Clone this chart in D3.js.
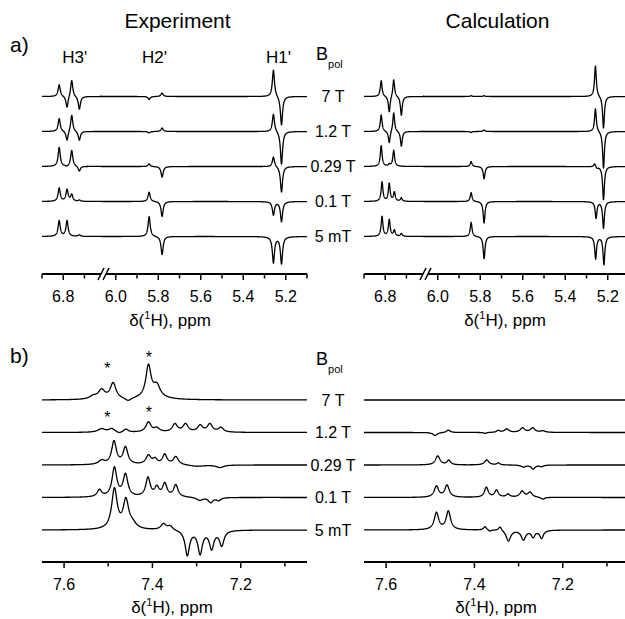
<!DOCTYPE html>
<html><head><meta charset="utf-8">
<script src="https://cdn.jsdelivr.net/npm/d3@7"></script>
<style>body{margin:0;background:#fff}svg{display:block}</style>
</head><body><svg id="c" width="625" height="619"></svg>
<script>
// ---------------- DATA ----------------
const fields = ["7 T", "1.2 T", "0.29 T", "0.1 T", "5 mT"];
const topTicksMajor = [6.8, 6.0, 5.8, 5.6, 5.4, 5.2];
const topTicksMinor = [6.9, 6.7, 5.9, 5.7, 5.5, 5.3, 5.1];
const botTicksMajor = [7.6, 7.4, 7.2];
const botTicksMinor = [7.5, 7.3, 7.1];
const groupNames = ["H3'", "H2'", "H1'"];
const groupPpm = [6.746, 5.818, 5.234];
const starPpm = [7.502, 7.408];
const starLevels = [[35, 46], [18.5, 23.5]];   // intensity above baseline for 7 T and 1.2 T
// peaks: [ppm, intensity, half-width(ppm)]
const topExp = [
  [[6.819,12],[6.782,-12],[6.760,17],[6.724,-13],[5.843,-3],[5.782,3.5],[5.258,27],[5.220,-29]],
  [[6.819,13],[6.782,-10],[6.760,17],[6.724,-9],[5.843,-1.5],[5.782,3.5],[5.258,18],[5.220,-33]],
  [[6.819,19],[6.782,-1],[6.760,16],[6.724,-5],[5.843,2.7],[5.782,-10.6],[5.258,10],[5.220,-25.7]],
  [[6.819,13.4],[6.782,11.7],[6.760,6.7],[6.724,1.2],[5.843,9.4],[5.782,-15],[5.258,-13.3],[5.220,-20]],
  [[6.819,15.7],[6.782,15.7],[6.724,1.5],[5.843,20],[5.782,-18.3],[5.258,-26],[5.220,-27]]
];
const topCalc = [
  [[6.819,16],[6.781,-16.3],[6.760,17.7],[6.724,-19],[5.843,0.8],[5.782,0.8],[5.258,31],[5.220,-32]],
  [[6.819,16.7],[6.781,-12.3],[6.760,19.3],[6.724,-15],[5.843,-1],[5.782,1.5],[5.258,23.3],[5.220,-37]],
  [[6.819,20.7],[6.781,2],[6.760,16],[5.843,5],[5.782,-12.3],[5.262,3.4],[5.250,-1.5],[5.220,-33.3]],
  [[6.815,19.4],[6.781,17.7],[6.757,9],[6.724,3.4],[5.843,9],[5.782,-21.6],[5.255,-16.6],[5.220,-26.6]],
  [[6.815,20],[6.781,16.7],[6.757,6],[6.724,2.7],[5.843,14.3],[5.782,-22.3],[5.257,-22.3],[5.218,-28]]
];
const botExp = [
  [[7.534,3,0.01],[7.515,9,0.009],[7.489,16,0.008],[7.455,-3,0.008],[7.409,31,0.007],[7.390,11,0.009],[7.40,3,0.03]],
  [[7.515,3.5,0.01],[7.492,3.5,0.008],[7.475,-1.5,0.006],[7.460,3,0.006],[7.409,10,0.007],[7.390,4,0.007],[7.349,8,0.007],[7.325,8,0.007],[7.292,6.5,0.007],[7.270,8,0.007],[7.245,4.5,0.007]],
  [[7.515,4,0.008],[7.487,23,0.0065],[7.461,17,0.0065],[7.409,9,0.007],[7.394,5,0.006],[7.372,10,0.006],[7.347,8,0.007],[7.30,-1.5,0.02],[7.247,-2.5,0.01]],
  [[7.520,7,0.006],[7.486,29,0.0065],[7.461,22,0.0065],[7.410,19,0.006],[7.390,9,0.006],[7.372,13,0.006],[7.347,12,0.006],[7.293,-3,0.008],[7.268,-5,0.006],[7.250,-3,0.006]],
  [[7.486,40,0.0075],[7.460,28,0.0075],[7.445,5,0.01],[7.375,6,0.007],[7.360,4,0.007],[7.321,-25,0.006],[7.292,-23,0.006],[7.266,-18,0.006],[7.243,-15,0.006]]
];
const botCalc = [
  [],
  [[7.489,-3,0.006],[7.459,2.5,0.005],[7.376,-1,0.004],[7.346,2,0.004],[7.327,3.5,0.006],[7.291,4.5,0.006],[7.268,4.5,0.006],[7.245,1.5,0.006]],
  [[7.483,9,0.006],[7.458,4.5,0.005],[7.372,5,0.006],[7.346,2,0.004],[7.289,-2,0.006],[7.267,-4,0.005],[7.248,-1.5,0.005]],
  [[7.486,11,0.006],[7.462,12,0.006],[7.373,10,0.005],[7.350,7,0.005],[7.324,3,0.005],[7.292,6,0.006],[7.274,5,0.006],[7.245,-2,0.005]],
  [[7.486,17,0.006],[7.459,18.5,0.006],[7.376,3.5,0.004],[7.365,-1.5,0.003],[7.342,4,0.004],[7.323,-11,0.006],[7.289,-9.5,0.006],[7.267,-6.5,0.005],[7.248,-8,0.005]]
];

// ---------------- DRAWING ----------------
const svg = d3.select("#c");
const FONT = "'Liberation Sans', Arial, Helvetica, sans-serif";
const PX = 322; // horizontal offset of the Calculation column

const topDomain = [6.9, 6.622, 6.046, 5.1];
const topRangeL = [42, 101, 106, 307];
const botDomain = [7.65, 7.05];
const botRangeL = [42, 307];

const topBase0 = 96.5, topStep = 35, topAxisY = 274;
const botBase0 = 400, botStep = 32.5, botAxisY = 562;

function spectrum(peaks, ppm, wDef) {
  let s = 0;
  for (const p of peaks) {
    const w = p[2] || wDef, d = ppm - p[0];
    s += p[1] * w * w / (d * d + w * w);
  }
  return s;
}

function drawPanel(xs, data, wDef, domainStart, domainEnd, base0, step) {
  const grid = d3.range(domainStart, domainEnd, -0.0004);
  data.forEach((peaks, i) => {
    const base = base0 + i * step;
    const y = d3.scaleLinear().domain([0, 10]).range([base, base - 10]);
    const pts = grid.map(p => ({p, v: spectrum(peaks, p, wDef)}));
    svg.append("path")
      .attr("d", d3.line().x(d => xs(d.p)).y(d => y(d.v))(pts))
      .attr("fill", "none").attr("stroke", "#000")
      .attr("stroke-width", 1.3).attr("stroke-linejoin", "round");
  });
}

function drawAxis(xs, ay, major, minor, breakAt) {
  const g = svg.append("g").attr("stroke", "#000");
  if (breakAt) {
    g.append("line").attr("x1", xs.range()[0]).attr("x2", breakAt[0]).attr("y1", ay).attr("y2", ay).attr("stroke-width", 2);
    g.append("line").attr("x1", breakAt[1]).attr("x2", xs.range()[xs.range().length - 1]).attr("y1", ay).attr("y2", ay).attr("stroke-width", 2);
    [breakAt[0], breakAt[1]].forEach(bx => {
      g.append("line").attr("x1", bx - 3).attr("y1", ay + 6).attr("x2", bx + 3).attr("y2", ay - 6).attr("stroke-width", 1.5);
    });
  } else {
    const r = xs.range();
    g.append("line").attr("x1", r[0]).attr("x2", r[r.length - 1]).attr("y1", ay).attr("y2", ay).attr("stroke-width", 2);
  }
  major.forEach(t => g.append("line").attr("x1", xs(t)).attr("x2", xs(t)).attr("y1", ay).attr("y2", ay + 6).attr("stroke-width", 1.5));
  minor.forEach(t => g.append("line").attr("x1", xs(t)).attr("x2", xs(t)).attr("y1", ay).attr("y2", ay + 4.5).attr("stroke-width", 1.5));
  major.forEach(t => svg.append("text").attr("x", xs(t)).attr("y", ay + 28)
    .attr("text-anchor", "middle").attr("font-family", FONT).attr("font-size", 16).text(t.toFixed(1)));
}

function axisTitle(cx, y) {
  const t = svg.append("text").attr("x", cx).attr("y", y).attr("text-anchor", "middle")
    .attr("font-family", FONT).attr("font-size", 17);
  t.append("tspan").text("δ(");
  t.append("tspan").attr("font-size", 11).attr("dy", -7).text("1");
  t.append("tspan").attr("dy", 7).text("H), ppm");
}

function bpol(x, y) {
  const t = svg.append("text").attr("x", x).attr("y", y).attr("font-family", FONT).attr("font-size", 18);
  t.append("tspan").text("B");
  t.append("tspan").attr("font-size", 11).attr("dy", 8).text("pol");
}

// scales
const xTopL = d3.scaleLinear().domain(topDomain).range(topRangeL);
const xTopR = d3.scaleLinear().domain(topDomain).range(topRangeL.map(v => v + PX));
const xBotL = d3.scaleLinear().domain(botDomain).range(botRangeL);
const xBotR = d3.scaleLinear().domain(botDomain).range(botRangeL.map(v => v + PX));

// traces
drawPanel(xTopL, topExp, 0.006, 6.9, 5.1, topBase0, topStep);
drawPanel(xTopR, topCalc, 0.005, 6.9, 5.1, topBase0, topStep);
drawPanel(xBotL, botExp, 0.006, 7.65, 7.05, botBase0, botStep);
drawPanel(xBotR, botCalc, 0.006, 7.65, 7.05, botBase0, botStep);

// axes
drawAxis(xTopL, topAxisY, topTicksMajor, topTicksMinor, [101, 106]);
drawAxis(xTopR, topAxisY, topTicksMajor, topTicksMinor, [101 + PX, 106 + PX]);
drawAxis(xBotL, botAxisY, botTicksMajor, botTicksMinor, null);
drawAxis(xBotR, botAxisY, botTicksMajor, botTicksMinor, null);

axisTitle(170, 326);
axisTitle(505, 326);
axisTitle(172, 613);
axisTitle(496, 613);

// titles
svg.append("text").attr("x", 177.5).attr("y", 28).attr("text-anchor", "middle")
  .attr("font-family", FONT).attr("font-size", 21).text("Experiment");
svg.append("text").attr("x", 497.5).attr("y", 28).attr("text-anchor", "middle")
  .attr("font-family", FONT).attr("font-size", 21).text("Calculation");
svg.append("text").attr("x", 10).attr("y", 52).attr("font-family", FONT).attr("font-size", 21).text("a)");
svg.append("text").attr("x", 10).attr("y", 363).attr("font-family", FONT).attr("font-size", 21).text("b)");

// group labels
groupNames.forEach((n, i) => svg.append("text").attr("x", xTopL(groupPpm[i])).attr("y", 63)
  .attr("text-anchor", "middle").attr("font-family", FONT).attr("font-size", 17).text(n));

// field labels
bpol(316, 60);
bpol(316, 365);
fields.forEach((f, i) => {
  svg.append("text").attr("x", 333).attr("y", topBase0 + i * topStep + 5.5)
    .attr("text-anchor", "middle").attr("font-family", FONT).attr("font-size", 16).text(f);
  svg.append("text").attr("x", 333).attr("y", botBase0 + i * botStep + 5.5)
    .attr("text-anchor", "middle").attr("font-family", FONT).attr("font-size", 16).text(f);
});

// stars
starLevels.forEach((lv, i) => {
  const base = botBase0 + i * botStep;
  const y = d3.scaleLinear().domain([0, 10]).range([base, base - 10]);
  starPpm.forEach((p, j) => svg.append("text").attr("x", xBotL(p)).attr("y", y(lv[j]) + 9)
    .attr("text-anchor", "middle").attr("font-family", FONT).attr("font-size", 16).text("*"));
});
</script></body></html>
